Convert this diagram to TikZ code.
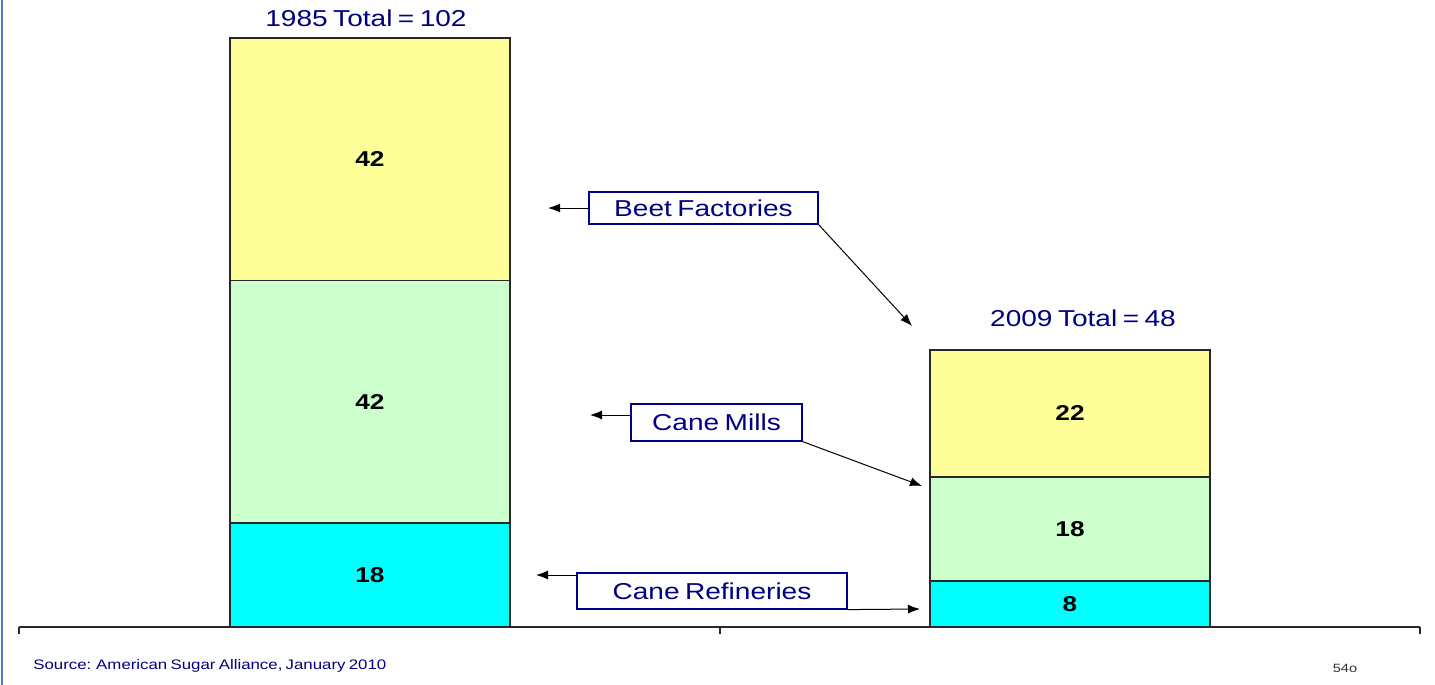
\documentclass[tikz,border=0pt]{standalone}
\usepackage{fontspec}
\newfontfamily\chartfont{Liberation Sans}[FakeStretch=1.22, WordSpace=0.7]
\usetikzlibrary{positioning,arrows.meta}
\definecolor{labelblue}{RGB}{0,0,128}
\definecolor{beetyellow}{RGB}{255,255,153}
\definecolor{millgreen}{RGB}{204,255,204}
\definecolor{refcyan}{RGB}{0,255,255}
\definecolor{barline}{RGB}{40,40,40}
\definecolor{edgeblue}{RGB}{79,129,189}
\tikzset{
  seg/.style={draw=barline, line width=0.8pt, minimum width=140pt, minimum height=#1*2.8875pt,
    inner sep=0, outer sep=0, font=\chartfont\bfseries\fontsize{10.75}{12}\selectfont},
  totlabel/.style={text=labelblue, inner sep=0, font=\chartfont\fontsize{11.5}{13}\selectfont},
  lbl/.style={draw=labelblue, line width=0.6pt, text=labelblue, inner sep=0,
    font=\chartfont\fontsize{11.5}{13}\selectfont},
  axis/.style={draw=barline, line width=0.6pt}
}

\begin{document}
\begin{tikzpicture}[x=0.5pt, y=-0.5pt, >={Latex[length=6pt,width=4.5pt]}]
\useasboundingbox (0,0) rectangle (1435,685);
\draw[edgeblue, line width=1pt] (2,0) -- (2,685);

% 1985 bar
\node[seg=18, fill=refcyan, anchor=south] (cr85) at (370,627) {18};
\node[seg=42, fill=millgreen, above=0pt of cr85] (cm85) {42};
\node[seg=42, fill=beetyellow, above=0pt of cm85] (bf85) {42};
\node[totlabel] (t85) at (366,18) {1985 Total = 102};

% 2009 bar
\node[seg=8, fill=refcyan, anchor=south] (cr09) at (1070,627) {8};
\node[seg=18, fill=millgreen, above=0pt of cr09] (cm09) {18};
\node[seg=22, fill=beetyellow, above=0pt of cm09] (bf09) {22};
\node[totlabel] (t09) at (1083,318) {2009 Total = 48};

% axis
\draw[axis] (19,627) -- (1420,627);
\foreach \x in {19,720,1420}
  \draw[axis] (\x,627) -- (\x,634);

% labels
\node[lbl, minimum width=114.5pt, minimum height=16pt] (bf) at (703.5,208) {Beet Factories};
\node[lbl, minimum width=85.5pt, minimum height=18.5pt] (cm) at (716.5,422.5) {Cane Mills};
\node[lbl, minimum width=135pt, minimum height=18pt] (cr) at (712,591) {Cane Refineries};

\coordinate (bfL) at (548,208);
\coordinate (bfR) at (912,326);
\coordinate (cmL) at (590,415);
\coordinate (cmR) at (922,486);
\coordinate (crL) at (536,575);
\coordinate (crR) at (920,609);

\draw[->, line width=0.5pt] (bf.west) -- (bfL);
\draw[->, line width=0.5pt] (bf.south east) -- (bfR);
\draw[->, line width=0.5pt] (cm.west |- cmL) -- (cmL);
\draw[->, line width=0.5pt] (cm.south east) -- (cmR);
\draw[->, line width=0.5pt] (cr.west |- crL) -- (crL);
\draw[->, line width=0.5pt] (cr.south east) -- (crR);

\node[anchor=west, text=labelblue, inner sep=0, font=\chartfont\fontsize{6.9}{8}\selectfont] (src) at (33,666)
  {Source: American Sugar Alliance, January 2010};
\node[text=black!80, inner sep=0, font=\chartfont\fontsize{6}{7}\selectfont] (pg) at (1345,668) {54o};
\end{tikzpicture}
\end{document}
